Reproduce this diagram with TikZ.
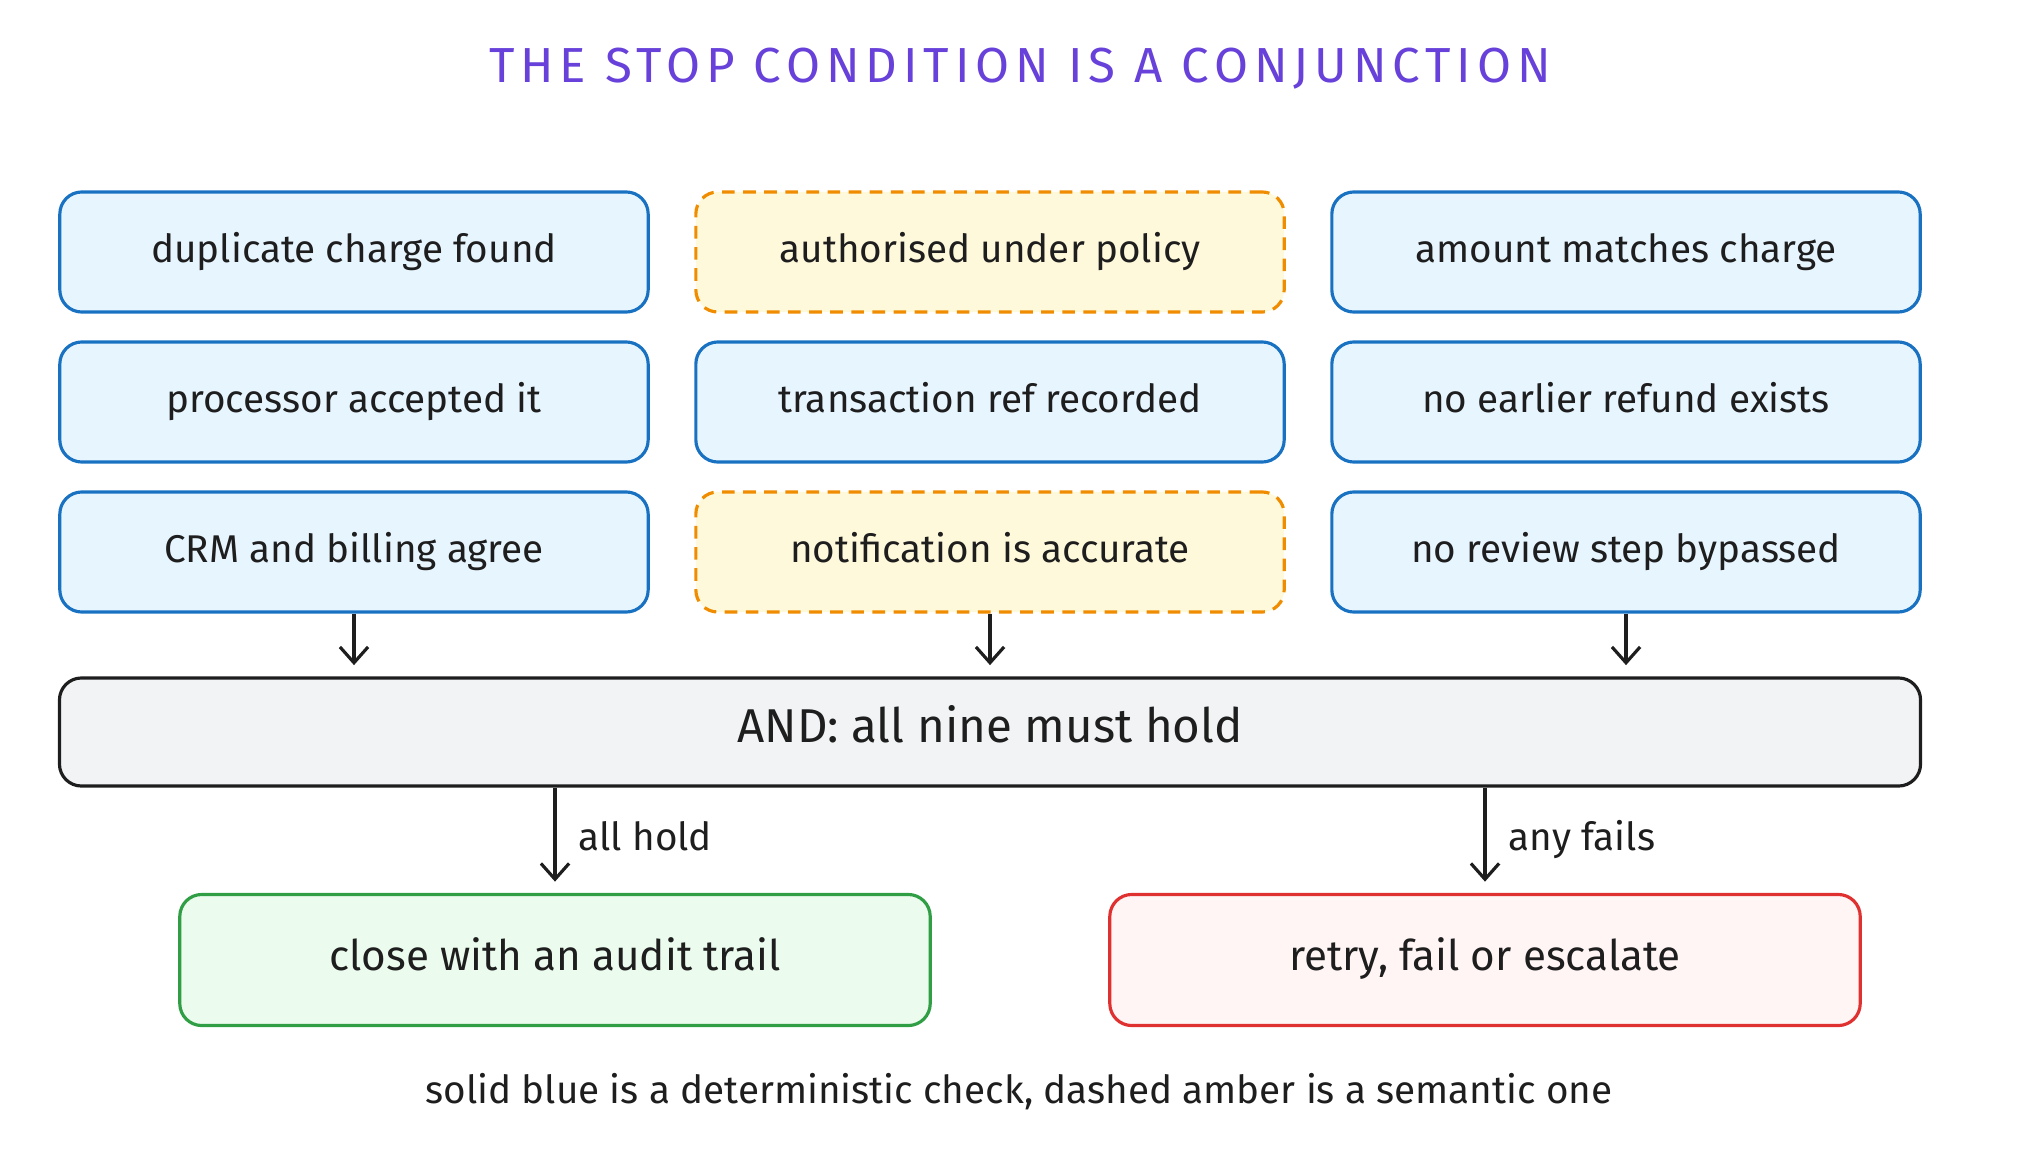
\documentclass[tikz,border=0pt]{standalone}
\usepackage{fontspec}
\setmainfont{Fira Sans}
\newfontfamily\titlefont[LetterSpace=12]{Fira Sans}
\usetikzlibrary{positioning,arrows.meta}
\definecolor{ink}{HTML}{1E1E1E}
\definecolor{violet}{HTML}{6741D9}
\definecolor{detline}{HTML}{1971C2}
\definecolor{detfill}{HTML}{E7F5FF}
\definecolor{semline}{HTML}{F08C00}
\definecolor{semfill}{HTML}{FFF9DB}
\definecolor{gatefill}{HTML}{F1F3F5}
\definecolor{okline}{HTML}{2F9E44}
\definecolor{okfill}{HTML}{EBFBEE}
\definecolor{badline}{HTML}{E03131}
\definecolor{badfill}{HTML}{FFF5F5}
\begin{document}
\begin{tikzpicture}[
		x=0.01cm, y=-0.01cm,
		line width=0.9pt,
		font=\fontsize{11}{13}\selectfont,
		text=ink,
		text height=1.6ex, text depth=0.45ex,
		check/.style={ draw=detline, fill=detfill, rounded corners=0.22cm, minimum width=5.88cm, minimum height=1.2cm, },
		semcheck/.style={ check, draw=semline, fill=semfill, dash pattern=on 3.6pt off 2.4pt, },
		gate/.style={ draw=ink, fill=gatefill, rounded corners=0.22cm, minimum width=18.6cm, minimum height=1.08cm, font=\fontsize{13.5}{16}\selectfont, },
		outcome/.style={ rounded corners=0.22cm, minimum width=7.5cm, minimum height=1.31cm, font=\fontsize{12}{14}\selectfont, },
		arr/.style={ draw=ink, -{Straight Barb[length=4.5pt,width=8pt]}, shorten >=3.2pt, },
		]
		
		\useasboundingbox (0,0) rectangle (2040,1152);
		
		\node[text=violet,font=\titlefont\fontsize{14}{16}\selectfont](title) at (1020,72){THE STOP CONDITION IS A CONJUNCTION};
		
		\begin{scope}
			\node[check](dup) at (354,252){duplicate charge found};
			\node[semcheck](auth) at (990,252){authorised under policy};
			\node[check](amount) at (1626,252){amount matches charge};
			
			\node[check](proc) at (354,402){processor accepted it};
			\node[check](txref) at (990,402){transaction ref recorded};
			\node[check](norefund) at (1626,402){no earlier refund exists};
			
			\node[check](crm) at (354,552){CRM and billing agree};
			\node[semcheck](notify) at (990,552){notification is accurate};
			\node[check](noreview) at (1626,552){no review step bypassed};
		\end{scope}
		
		\node[gate](gate) at (990,732){AND: all nine must hold};
		
		\draw[arr](crm.south)--(crm.south|-gate.north);
		\draw[arr](notify.south)--(notify.south|-gate.north);
		\draw[arr](noreview.south)--(noreview.south|-gate.north);
		
		\node[outcome,draw=okline,fill=okfill](close) at (555,960){close with an audit trail};
		\node[outcome,draw=badline,fill=badfill](retry) at (1485,960){retry, fail or escalate};
		
		\draw[arr](gate.south-|close.north)--(close.north)node[midway,right=3pt]{all hold};
		\draw[arr](gate.south-|retry.north)--(retry.north)node[midway,right=3pt]{any fails};
		
		\node(legend) at (1019,1093){solid blue is a deterministic check, dashed amber is a semantic one};
	\end{tikzpicture}
\end{document}
